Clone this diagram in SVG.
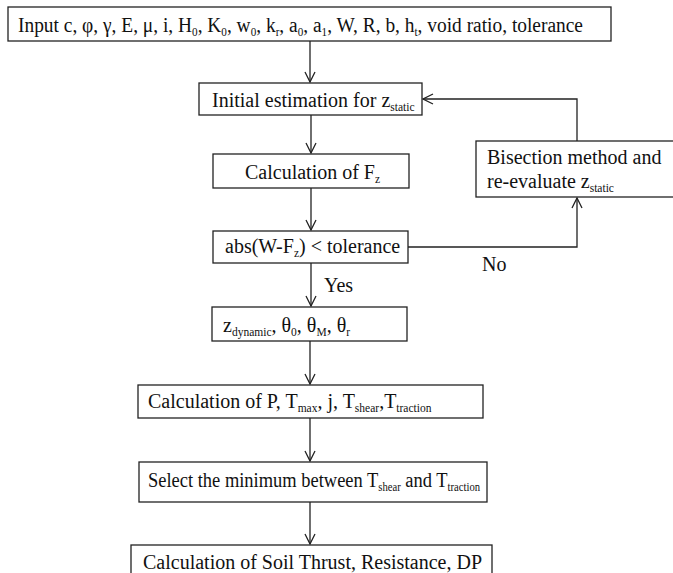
<svg xmlns="http://www.w3.org/2000/svg" width="673" height="573" viewBox="0 0 673 573">
<style>
.box{fill:#fff;stroke:#222;stroke-width:1.3}
.t{font-family:"Liberation Serif","Times New Roman",serif;font-size:20px;fill:#111}
.s{font-size:11.5px}
.c{fill:none;stroke:#222;stroke-width:1.3}
</style>
<defs>
<marker id="a" viewBox="0 0 12 12" refX="11" refY="6" markerWidth="12" markerHeight="12" markerUnits="userSpaceOnUse" orient="auto">
<path d="M1,1 L11,6 L1,11" fill="none" stroke="#222" stroke-width="1.3"/>
</marker>
</defs>
<rect width="673" height="573" fill="#fff"/>
<g id="connectors">
<line class="c" x1="310" y1="41" x2="310" y2="82" marker-end="url(#a)"/>
<line class="c" x1="311" y1="115" x2="311" y2="153" marker-end="url(#a)"/>
<line class="c" x1="311" y1="188" x2="311" y2="230" marker-end="url(#a)"/>
<line class="c" x1="311" y1="263" x2="311" y2="306" marker-end="url(#a)"/>
<line class="c" x1="310" y1="341" x2="310" y2="384" marker-end="url(#a)"/>
<line class="c" x1="310" y1="418" x2="310" y2="461" marker-end="url(#a)"/>
<line class="c" x1="310" y1="502" x2="310" y2="544" marker-end="url(#a)"/>
<polyline class="c" points="408,247 577,247 577,198" marker-end="url(#a)"/>
<polyline class="c" points="577,141 577,99 423,99" marker-end="url(#a)"/>
<text class="t" x="482" y="271">No</text>
<text class="t" x="324" y="292">Yes</text>
</g>
<g id="input">
<rect class="box" x="8" y="7" width="603" height="34"/>
<text class="t" x="18" y="32" textLength="565" lengthAdjust="spacingAndGlyphs">Input c, φ, γ, E, μ, i, H<tspan class="s" dy="4">0</tspan><tspan dy="-4">, K</tspan><tspan class="s" dy="4">0</tspan><tspan dy="-4">, w</tspan><tspan class="s" dy="4">0</tspan><tspan dy="-4">, k</tspan><tspan class="s" dy="4">r</tspan><tspan dy="-4">, a</tspan><tspan class="s" dy="4">0</tspan><tspan dy="-4">, a</tspan><tspan class="s" dy="4">1</tspan><tspan dy="-4">, W, R, b, h</tspan><tspan class="s" dy="4">t</tspan><tspan dy="-4">, void ratio, tolerance</tspan></text>
</g>
<g id="initial">
<rect class="box" x="199" y="83" width="223" height="32"/>
<text class="t" x="212" y="107">Initial estimation for z<tspan class="s" dy="4">static</tspan></text>
</g>
<g id="calcFz">
<rect class="box" x="213" y="154" width="196" height="34"/>
<text class="t" x="245" y="179">Calculation of F<tspan class="s" dy="4">z</tspan></text>
</g>
<g id="bisection">
<rect class="box" x="476" y="141" width="200" height="56"/>
<text class="t" x="487" y="164">Bisection method and</text>
<text class="t" x="487" y="188">re-evaluate z<tspan class="s" dy="4">static</tspan></text>
</g>
<g id="check">
<rect class="box" x="213" y="231" width="195" height="32"/>
<text class="t" x="225" y="253">abs(W-F<tspan class="s" dy="4">z</tspan><tspan dy="-4">) &lt; tolerance</tspan></text>
</g>
<g id="dynamic">
<rect class="box" x="212" y="307" width="195" height="34"/>
<text class="t" x="223" y="332">z<tspan class="s" dy="4">dynamic</tspan><tspan dy="-4">, θ</tspan><tspan class="s" dy="4">0</tspan><tspan dy="-4">, θ</tspan><tspan class="s" dy="4">M</tspan><tspan dy="-4">, θ</tspan><tspan class="s" dy="4">r</tspan></text>
</g>
<g id="calcP">
<rect class="box" x="138" y="385" width="345" height="33"/>
<text class="t" x="148" y="408">Calculation of P, T<tspan class="s" dy="4">max</tspan><tspan dy="-4">, j, T</tspan><tspan class="s" dy="4">shear</tspan><tspan dy="-4">,T</tspan><tspan class="s" dy="4">traction</tspan></text>
</g>
<g id="select">
<rect class="box" x="139" y="462" width="348" height="40"/>
<text class="t" x="148" y="487" textLength="332" lengthAdjust="spacingAndGlyphs">Select the minimum between T<tspan class="s" dy="4">shear</tspan><tspan dy="-4"> and T</tspan><tspan class="s" dy="4">traction</tspan></text>
</g>
<g id="final">
<rect class="box" x="131" y="545" width="361" height="40"/>
<text class="t" x="143" y="569">Calculation of Soil Thrust, Resistance, DP</text>
</g>
</svg>
